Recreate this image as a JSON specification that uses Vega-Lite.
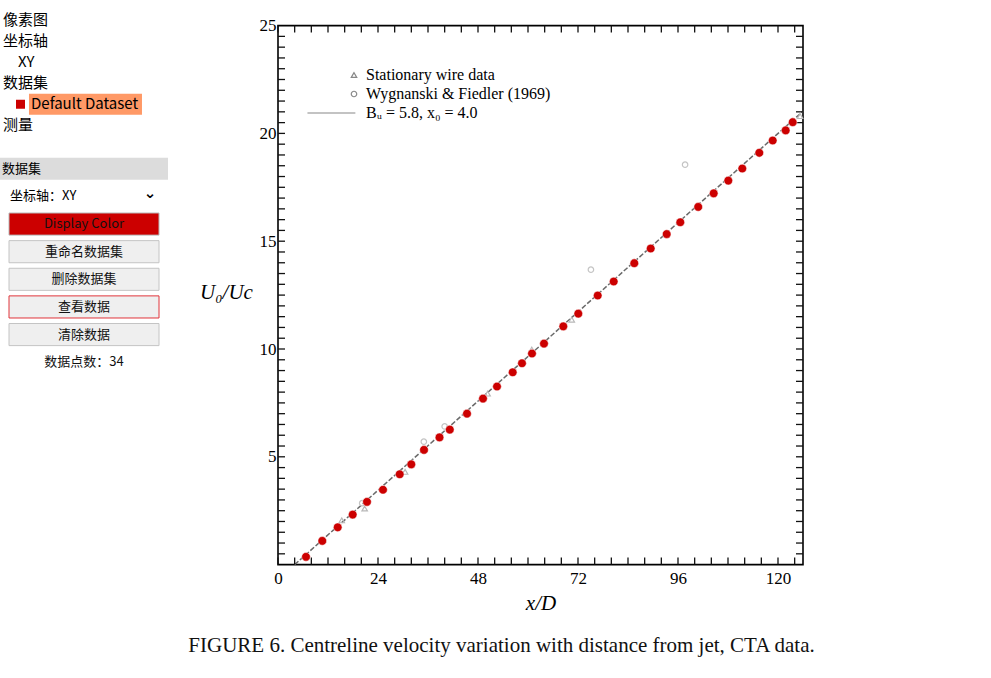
{
  "$schema": "https://vega.github.io/schema/vega-lite/v6.json",
  "background": "white",
  "padding": {"left": 0, "top": 9, "right": 5, "bottom": 5},
  "bounds": "flush",
  "spacing": 278,
  "config": {
    "view": {"stroke": null},
    "font": "Noto Sans CJK SC",
    "text": {"font": "Noto Sans CJK SC"}
  },
  "datasets": {
    "tree": [
      {"row": 1, "label": "像素图", "indent": 0, "selected": false},
      {"row": 2, "label": "坐标轴", "indent": 0, "selected": false},
      {"row": 3, "label": "XY", "indent": 1, "selected": false},
      {"row": 4, "label": "数据集", "indent": 0, "selected": false},
      {"row": 5, "label": "Default Dataset", "indent": 1, "selected": true},
      {"row": 6, "label": "测量", "indent": 0, "selected": false}
    ],
    "panel": [
      {"row": 1, "kind": "header", "label": "数据集"},
      {"row": 2, "kind": "select", "label": "坐标轴：XY"},
      {"row": 3, "kind": "color", "label": "Display Color"},
      {"row": 4, "kind": "button", "label": "重命名数据集"},
      {"row": 5, "kind": "button", "label": "删除数据集"},
      {"row": 6, "kind": "focused", "label": "查看数据"},
      {"row": 7, "kind": "button", "label": "清除数据"},
      {"row": 8, "kind": "info", "label": "数据点数：34"}
    ],
    "xticks": [
      {"xt": 0}, {"xt": 4}, {"xt": 8}, {"xt": 12}, {"xt": 16}, {"xt": 20}, {"xt": 24}, {"xt": 28},
      {"xt": 32}, {"xt": 36}, {"xt": 40}, {"xt": 44}, {"xt": 48}, {"xt": 52}, {"xt": 56}, {"xt": 60},
      {"xt": 64}, {"xt": 68}, {"xt": 72}, {"xt": 76}, {"xt": 80}, {"xt": 84}, {"xt": 88}, {"xt": 92},
      {"xt": 96}, {"xt": 100}, {"xt": 104}, {"xt": 108}, {"xt": 112}, {"xt": 116}, {"xt": 120}, {"xt": 124}
    ],
    "yticks": [
      {"yt": 0.5}, {"yt": 1}, {"yt": 1.5}, {"yt": 2}, {"yt": 2.5}, {"yt": 3}, {"yt": 3.5}, {"yt": 4}, {"yt": 4.5}, {"yt": 5},
      {"yt": 5.5}, {"yt": 6}, {"yt": 6.5}, {"yt": 7}, {"yt": 7.5}, {"yt": 8}, {"yt": 8.5}, {"yt": 9}, {"yt": 9.5}, {"yt": 10},
      {"yt": 10.5}, {"yt": 11}, {"yt": 11.5}, {"yt": 12}, {"yt": 12.5}, {"yt": 13}, {"yt": 13.5}, {"yt": 14}, {"yt": 14.5}, {"yt": 15},
      {"yt": 15.5}, {"yt": 16}, {"yt": 16.5}, {"yt": 17}, {"yt": 17.5}, {"yt": 18}, {"yt": 18.5}, {"yt": 19}, {"yt": 19.5}, {"yt": 20},
      {"yt": 20.5}, {"yt": 21}, {"yt": 21.5}, {"yt": 22}, {"yt": 22.5}, {"yt": 23}, {"yt": 23.5}, {"yt": 24}, {"yt": 24.5}
    ],
    "fit": [
      {"x": 4, "y": 0},
      {"x": 126, "y": 21.03}
    ],
    "original": [
      {"series": "Stationary wire data", "x": 15.3, "y": 2.05},
      {"series": "Stationary wire data", "x": 20.8, "y": 2.6},
      {"series": "Wygnanski & Fiedler (1969)", "x": 20.2, "y": 2.85},
      {"series": "Stationary wire data", "x": 30.5, "y": 4.3},
      {"series": "Wygnanski & Fiedler (1969)", "x": 35.0, "y": 5.7},
      {"series": "Wygnanski & Fiedler (1969)", "x": 40.0, "y": 6.41},
      {"series": "Stationary wire data", "x": 50.3, "y": 7.93},
      {"series": "Stationary wire data", "x": 60.9, "y": 9.97},
      {"series": "Stationary wire data", "x": 70.5, "y": 11.36},
      {"series": "Wygnanski & Fiedler (1969)", "x": 75.1, "y": 13.68},
      {"series": "Wygnanski & Fiedler (1969)", "x": 97.7, "y": 18.55},
      {"series": "Stationary wire data", "x": 125.3, "y": 20.8}
    ],
    "digitized": [
      {"x": 6.72, "y": 0.36},
      {"x": 10.63, "y": 1.10},
      {"x": 14.33, "y": 1.73},
      {"x": 17.93, "y": 2.32},
      {"x": 21.36, "y": 2.91},
      {"x": 25.20, "y": 3.47},
      {"x": 29.21, "y": 4.19},
      {"x": 31.99, "y": 4.65},
      {"x": 35.04, "y": 5.32},
      {"x": 38.76, "y": 5.90},
      {"x": 41.23, "y": 6.26},
      {"x": 45.36, "y": 7.00},
      {"x": 49.20, "y": 7.70},
      {"x": 52.56, "y": 8.26},
      {"x": 56.33, "y": 8.92},
      {"x": 58.56, "y": 9.34},
      {"x": 60.96, "y": 9.79},
      {"x": 63.84, "y": 10.25},
      {"x": 68.47, "y": 11.05},
      {"x": 72.07, "y": 11.64},
      {"x": 76.73, "y": 12.48},
      {"x": 80.57, "y": 13.13},
      {"x": 85.51, "y": 13.98},
      {"x": 89.45, "y": 14.66},
      {"x": 93.29, "y": 15.33},
      {"x": 96.55, "y": 15.88},
      {"x": 100.85, "y": 16.59},
      {"x": 104.57, "y": 17.22},
      {"x": 108.07, "y": 17.81},
      {"x": 111.43, "y": 18.37},
      {"x": 115.51, "y": 19.10},
      {"x": 118.73, "y": 19.67},
      {"x": 121.85, "y": 20.14},
      {"x": 123.53, "y": 20.52}
    ]
  },
  "hconcat": [
    {
      "bounds": "flush",
      "spacing": 19,
      "vconcat": [
        {
          "width": 168,
          "height": 127,
          "data": {"name": "tree"},
          "resolve": {"scale": {"x": "independent"}},
          "layer": [
            {
              "transform": [{"filter": "datum.selected"}],
              "mark": {"type": "bar", "color": "#ff9966"},
              "encoding": {
                "x": {"datum": "sel", "type": "nominal", "scale": {"type": "band", "paddingInner": 0, "paddingOuter": 0.2434, "align": 0.527}, "axis": null},
                "y": {"field": "row", "type": "ordinal", "scale": {"type": "band", "paddingInner": 0, "paddingOuter": 0}, "axis": null}
              }
            },
            {
              "transform": [{"filter": "datum.selected"}],
              "mark": {"type": "point", "shape": "M-0.45,-1H1.55V1H-0.45Z", "size": 81, "filled": true, "color": "#cc0000", "opacity": 1, "strokeWidth": 0},
              "encoding": {
                "x": {"field": "indent", "type": "quantitative", "scale": {"domain": [0, 1], "range": [3, 18]}, "axis": null},
                "y": {"field": "row", "type": "ordinal", "scale": {"type": "band", "paddingInner": 0, "paddingOuter": 0}, "axis": null}
              }
            },
            {
              "transform": [{"filter": "!datum.selected"}],
              "mark": {"type": "text", "align": "left", "baseline": "middle", "fontSize": 15, "color": "#000000"},
              "encoding": {
                "x": {"field": "indent", "type": "quantitative", "scale": {"domain": [0, 1], "range": [3, 18]}, "axis": null},
                "y": {"field": "row", "type": "ordinal", "scale": {"type": "band", "paddingInner": 0, "paddingOuter": 0}, "axis": null},
                "text": {"field": "label"}
              }
            },
            {
              "transform": [{"filter": "datum.selected"}],
              "mark": {"type": "text", "align": "left", "baseline": "middle", "fontSize": 15, "dx": 13, "color": "#000000"},
              "encoding": {
                "x": {"field": "indent", "type": "quantitative", "scale": {"domain": [0, 1], "range": [3, 18]}, "axis": null},
                "y": {"field": "row", "type": "ordinal", "scale": {"type": "band", "paddingInner": 0, "paddingOuter": 0}, "axis": null},
                "text": {"field": "label"}
              }
            }
          ]
        },
        {
          "width": 168,
          "height": 221,
          "data": {"name": "panel"},
          "resolve": {"scale": {"x": "independent"}},
          "layer": [
            {
              "transform": [{"filter": "datum.kind === 'header'"}],
              "mark": {"type": "bar", "color": "#dcdcdc"},
              "encoding": {
                "x": {"datum": "p", "type": "nominal", "scale": {"type": "band", "paddingInner": 0, "paddingOuter": 0}, "axis": null},
                "y": {"field": "row", "type": "ordinal", "scale": {"type": "band", "paddingInner": 0.2, "paddingOuter": 0.1}, "axis": null}
              }
            },
            {
              "transform": [{"filter": "datum.kind === 'header'"}],
              "mark": {"type": "text", "align": "left", "baseline": "middle", "fontSize": 13, "dx": 2, "color": "#000000"},
              "encoding": {
                "x": {"datum": "p", "type": "nominal", "bandPosition": 0, "scale": {"type": "band", "paddingInner": 0, "paddingOuter": 0}, "axis": null},
                "y": {"field": "row", "type": "ordinal", "scale": {"type": "band", "paddingInner": 0.2, "paddingOuter": 0.1}, "axis": null},
                "text": {"field": "label"}
              }
            },
            {
              "transform": [{"filter": "datum.kind === 'color' || datum.kind === 'button' || datum.kind === 'focused'"}],
              "mark": {"type": "bar", "strokeWidth": 1},
              "encoding": {
                "x": {"datum": "b", "type": "nominal", "scale": {"type": "band", "paddingInner": 0, "paddingOuter": 0.06}, "axis": null},
                "y": {"field": "row", "type": "ordinal", "scale": {"type": "band", "paddingInner": 0.2, "paddingOuter": 0.1}, "axis": null},
                "fill": {"field": "kind", "type": "nominal", "scale": {"domain": ["color", "button", "focused"], "range": ["#cc0000", "#efefef", "#efefef"]}, "legend": null},
                "stroke": {"field": "kind", "type": "nominal", "scale": {"domain": ["color", "button", "focused"], "range": ["#b8b8b8", "#c4c4c4", "#e0343a"]}, "legend": null}
              }
            },
            {
              "transform": [{"filter": "datum.kind === 'color' || datum.kind === 'button' || datum.kind === 'focused' || datum.kind === 'info'"}],
              "mark": {"type": "text", "align": "center", "baseline": "middle", "fontSize": 13, "color": "#111111"},
              "encoding": {
                "x": {"datum": "b", "type": "nominal", "bandPosition": 0.5, "scale": {"type": "band", "paddingInner": 0, "paddingOuter": 0.06}, "axis": null},
                "y": {"field": "row", "type": "ordinal", "scale": {"type": "band", "paddingInner": 0.2, "paddingOuter": 0.1}, "axis": null},
                "text": {"field": "label"}
              }
            },
            {
              "transform": [{"filter": "datum.kind === 'select'"}],
              "mark": {"type": "text", "align": "left", "baseline": "middle", "fontSize": 13, "dx": 1, "color": "#000000"},
              "encoding": {
                "x": {"datum": "b", "type": "nominal", "bandPosition": 0, "scale": {"type": "band", "paddingInner": 0, "paddingOuter": 0.06}, "axis": null},
                "y": {"field": "row", "type": "ordinal", "scale": {"type": "band", "paddingInner": 0.2, "paddingOuter": 0.1}, "axis": null},
                "text": {"field": "label"}
              }
            },
            {
              "transform": [{"filter": "datum.kind === 'select'"}],
              "mark": {"type": "text", "text": "⌄", "align": "center", "baseline": "middle", "font": "DejaVu Sans", "fontWeight": "bold", "fontSize": 15, "dy": -3, "color": "#000000"},
              "encoding": {
                "x": {"datum": "b", "type": "nominal", "bandPosition": 0.94, "scale": {"type": "band", "paddingInner": 0, "paddingOuter": 0.06}, "axis": null},
                "y": {"field": "row", "type": "ordinal", "scale": {"type": "band", "paddingInner": 0.2, "paddingOuter": 0.1}, "axis": null}
              }
            }
          ]
        }
      ]
    },
    {
      "bounds": "flush",
      "spacing": 15.6,
      "vconcat": [
        {
          "width": 525,
          "height": 1,
          "data": {"values": []},
          "mark": {"type": "point", "opacity": 0},
          "encoding": {}
        },
        {
          "width": 525,
          "height": 539,
          "view": {"stroke": "#000000", "strokeWidth": 1.6},
          "title": {
            "text": "FIGURE 6.  Centreline velocity variation with distance from jet, CTA data.",
            "orient": "bottom",
            "anchor": "middle",
            "font": "Liberation Serif",
            "fontSize": 21,
            "fontWeight": "normal",
            "color": "#111111",
            "offset": 21,
            "dx": -39
          },
          "resolve": {"axis": {"x": "independent", "y": "independent"}},
          "layer": [
            {
              "data": {"name": "fit"},
              "mark": {"type": "line", "color": "#6a6a6a", "strokeWidth": 1.5, "strokeDash": [5, 2]},
              "encoding": {
                "x": {
                  "field": "x", "type": "quantitative",
                  "scale": {"domain": [0, 126], "nice": false, "zero": false},
                  "axis": {
                    "orient": "bottom",
                    "values": [0, 24, 48, 72, 96, 120],
                    "domain": false, "grid": false, "ticks": false, "tickSize": 0,
                    "labelFont": "Liberation Serif", "labelFontSize": 17, "labelColor": "#000000",
                    "labelPadding": 6, "labelAngle": 0, "labelFlush": false, "labelOverlap": false, "labelBound": false,
                    "title": "x/D", "titleFont": "Liberation Serif", "titleFontSize": 21, "titleFontStyle": "italic",
                    "titleFontWeight": "normal", "titleColor": "#000000", "titlePadding": 6
                  }
                },
                "y": {
                  "field": "y", "type": "quantitative",
                  "scale": {"domain": [0, 25], "nice": false, "zero": false},
                  "axis": {
                    "orient": "left",
                    "values": [5, 10, 15, 20, 25],
                    "format": "d",
                    "domain": false, "grid": false, "ticks": false, "tickSize": 0,
                    "labelFont": "Liberation Serif", "labelFontSize": 17, "labelColor": "#000000",
                    "labelPadding": 2, "labelFlush": false, "labelOverlap": false, "labelBound": false,
                    "title": "U₀/Uc", "titleFont": "Liberation Serif", "titleFontSize": 21, "titleFontStyle": "italic",
                    "titleFontWeight": "normal", "titleColor": "#000000",
                    "titleAngle": 0, "titleAlign": "center", "titleBaseline": "middle", "titleX": -52, "titleY": 267
                  }
                }
              }
            },
            {
              "data": {"name": "xticks"},
              "mark": {"type": "tick", "orient": "vertical", "size": 7, "thickness": 1.3, "color": "#111111", "opacity": 1, "yOffset": -3.5},
              "encoding": {
                "x": {"field": "xt", "type": "quantitative", "axis": null},
                "y": {"datum": 0, "type": "quantitative", "axis": null}
              }
            },
            {
              "data": {"name": "xticks"},
              "mark": {"type": "tick", "orient": "vertical", "size": 7, "thickness": 1.3, "color": "#111111", "opacity": 1, "yOffset": 3.5},
              "encoding": {
                "x": {"field": "xt", "type": "quantitative", "axis": null},
                "y": {"datum": 25, "type": "quantitative", "axis": null}
              }
            },
            {
              "data": {"name": "yticks"},
              "mark": {"type": "tick", "orient": "horizontal", "size": 7, "thickness": 1.3, "color": "#111111", "opacity": 1, "xOffset": 3.5},
              "encoding": {
                "y": {"field": "yt", "type": "quantitative", "axis": null},
                "x": {"datum": 0, "type": "quantitative", "axis": null}
              }
            },
            {
              "data": {"name": "yticks"},
              "mark": {"type": "tick", "orient": "horizontal", "size": 7, "thickness": 1.3, "color": "#111111", "opacity": 1, "xOffset": -3.5},
              "encoding": {
                "y": {"field": "yt", "type": "quantitative", "axis": null},
                "x": {"datum": 126, "type": "quantitative", "axis": null}
              }
            },
            {
              "data": {"name": "original"},
              "mark": {"type": "point", "filled": false, "size": 30, "strokeWidth": 1.2, "opacity": 1, "strokeOpacity": 1, "color": "#111111"},
              "encoding": {
                "x": {"field": "x", "type": "quantitative", "axis": null},
                "y": {"field": "y", "type": "quantitative", "axis": null},
                "shape": {
                  "field": "series", "type": "nominal",
                  "scale": {
                    "domain": ["Stationary wire data", "Wygnanski & Fiedler (1969)", "Bᵤ = 5.8, x₀ = 4.0"],
                    "range": ["triangle-up", "circle", "M-17,0H0.5"]
                  },
                  "legend": {
                    "title": null, "orient": "none", "legendX": 346, "legendY": 58,
                    "labelFont": "Liberation Serif", "labelFontSize": 16, "labelColor": "#000000", "labelLimit": 0,
                    "symbolSize": 30, "symbolStrokeWidth": 1.2, "labelOffset": 4, "rowPadding": 3, "padding": 0
                  }
                },
                "stroke": {
                  "field": "series", "type": "nominal",
                  "scale": {
                    "domain": ["Stationary wire data", "Wygnanski & Fiedler (1969)", "Bᵤ = 5.8, x₀ = 4.0"],
                    "range": ["#111111", "#111111", "#777777"]
                  },
                  "legend": {
                    "title": null, "orient": "none", "legendX": 346, "legendY": 58,
                    "labelFont": "Liberation Serif", "labelFontSize": 16, "labelColor": "#000000", "labelLimit": 0,
                    "symbolSize": 30, "symbolStrokeWidth": 1.2, "labelOffset": 4, "rowPadding": 3, "padding": 0
                  }
                }
              }
            },
            {
              "data": {"name": "digitized"},
              "mark": {"type": "circle", "size": 75, "color": "#cc0000", "opacity": 1, "stroke": "#ffffff", "strokeWidth": 0.5},
              "encoding": {
                "x": {"field": "x", "type": "quantitative", "axis": null},
                "y": {"field": "y", "type": "quantitative", "axis": null}
              }
            }
          ]
        }
      ]
    }
  ]
}
